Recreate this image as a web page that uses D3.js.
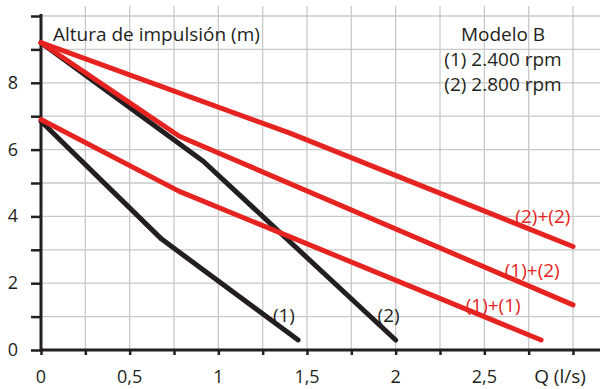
<!DOCTYPE html>
<html>
<head>
<meta charset="utf-8">
<script src="https://cdn.jsdelivr.net/npm/d3@7"></script>
<style>
  body { margin: 0; background: #fff; }
  text { font-family: "Open Sans", sans-serif; fill: #231f20; }
</style>
</head>
<body>
<svg id="chart" width="600" height="389"></svg>
<script>
// curve points [Q (l/s), H (m)]
var curve1 = [[0, 6.85], [0.68, 3.32], [1.45, 0.3]];
var curve2 = [[0, 9.2], [0.915, 5.65], [2.0, 0.3]];
var curve11 = [[0, 6.9], [0.78, 4.75], [2.82, 0.3]];
var curve12 = [[0, 9.2], [0.78, 6.4], [3.0, 1.35]];
var curve22 = [[0, 9.2], [1.4, 6.5], [3.0, 3.1]];

var xTickLabels = ['0', '0,5', '1', '1,5', '2', '2,5'];
var xTickValues = [0, 0.5, 1, 1.5, 2, 2.5];
var yTickValues = [0, 2, 4, 6, 8];

var curveLabels = [
  {text: '(1)', q: 1.37, h: 1.05, color: 'black'},
  {text: '(2)', q: 1.96, h: 1.05, color: 'black'},
  {text: '(2)+(2)', q: 2.83, h: 4.0, color: 'red'},
  {text: '(1)+(2)', q: 2.77, h: 2.4, color: 'red'},
  {text: '(1)+(1)', q: 2.55, h: 1.35, color: 'red'}
];

var RED = '#e52421';
var BLACK = '#231f20';

var svg = d3.select('#chart');

var x = d3.scaleLinear().domain([0, 3]).range([41, 573]);
var y = d3.scaleLinear().domain([0, 10]).range([350, 16]);

// grid
var grid = svg.append('g').attr('class', 'grid');
grid.selectAll('line.v')
    .data(d3.range(1, 13).map(function(i) { return i * 0.25; }))
    .enter().append('line')
    .attr('x1', function(d) { return x(d); })
    .attr('x2', function(d) { return x(d); })
    .attr('y1', y(10.3))
    .attr('y2', y(0))
    .attr('stroke', '#c9c9c9')
    .attr('stroke-width', 1.3);
grid.selectAll('line.h')
    .data(d3.range(1, 11))
    .enter().append('line')
    .attr('x1', x(0))
    .attr('x2', 600)
    .attr('y1', function(d) { return y(d); })
    .attr('y2', function(d) { return y(d); })
    .attr('stroke', '#c9c9c9')
    .attr('stroke-width', 1.3);

// axes
var xAxis = d3.axisBottom(x)
    .tickValues(d3.range(0, 13).map(function(i) { return i * 0.25; }))
    .tickSize(5)
    .tickFormat('');
var gx = svg.append('g').attr('transform', 'translate(0,' + y(0) + ')').call(xAxis);
gx.select('.domain').remove();
gx.selectAll('.tick line').attr('stroke', BLACK).attr('stroke-width', 2.5);

var yAxis = d3.axisLeft(y)
    .tickValues(d3.range(0, 11))
    .tickSize(10)
    .tickFormat('');
var gy = svg.append('g').attr('transform', 'translate(' + x(0) + ',0)').call(yAxis);
gy.select('.domain').remove();
gy.selectAll('.tick line').attr('stroke', BLACK).attr('stroke-width', 2.5);

svg.append('line')
    .attr('x1', x(0)).attr('x2', 600)
    .attr('y1', y(0)).attr('y2', y(0))
    .attr('stroke', BLACK).attr('stroke-width', 3);
svg.append('line')
    .attr('x1', x(0)).attr('x2', x(0))
    .attr('y1', 14).attr('y2', y(0) + 1.5)
    .attr('stroke', BLACK).attr('stroke-width', 3);

// tick labels
svg.selectAll('text.xl')
    .data(xTickValues)
    .enter().append('text')
    .attr('x', function(d) { return x(d); })
    .attr('y', 383)
    .attr('text-anchor', 'middle')
    .attr('font-size', 18)
    .text(function(d, i) { return xTickLabels[i]; });
svg.selectAll('text.yl')
    .data(yTickValues)
    .enter().append('text')
    .attr('x', 13)
    .attr('y', function(d) { return y(d) + 6; })
    .attr('text-anchor', 'middle')
    .attr('font-size', 18)
    .text(function(d) { return d; });

svg.append('text')
    .attr('x', 560).attr('y', 383)
    .attr('text-anchor', 'middle')
    .attr('font-size', 19)
    .text('Q (l/s)');

svg.append('text')
    .attr('x', 53).attr('y', 41)
    .attr('font-size', 19)
    .text('Altura de impulsión (m)');

var legend = ['Modelo B', '(1) 2.400 rpm', '(2) 2.800 rpm'];
svg.selectAll('text.leg')
    .data(legend)
    .enter().append('text')
    .attr('x', 503)
    .attr('y', function(d, i) { return 41 + i * 25; })
    .attr('text-anchor', 'middle')
    .attr('font-size', 19)
    .text(function(d) { return d; });

// curves
var line = d3.line()
    .x(function(d) { return x(d[0]); })
    .y(function(d) { return y(d[1]); });

var curves = [
  {pts: curve1, color: BLACK},
  {pts: curve2, color: BLACK},
  {pts: curve11, color: RED},
  {pts: curve12, color: RED},
  {pts: curve22, color: RED}
];

svg.selectAll('path.curve')
    .data(curves)
    .enter().append('path')
    .attr('class', 'curve')
    .attr('d', function(d) { return line(d.pts); })
    .attr('fill', 'none')
    .attr('stroke', function(d) { return d.color; })
    .attr('stroke-width', 5)
    .attr('stroke-linecap', 'round')
    .attr('stroke-linejoin', 'round');

svg.selectAll('text.cl')
    .data(curveLabels)
    .enter().append('text')
    .attr('x', function(d) { return x(d.q); })
    .attr('y', function(d) { return y(d.h) + 7; })
    .attr('text-anchor', 'middle')
    .attr('font-size', 19)
    .style('fill', function(d) { return d.color === 'red' ? RED : BLACK; })
    .text(function(d) { return d.text; });
</script>
</body>
</html>
